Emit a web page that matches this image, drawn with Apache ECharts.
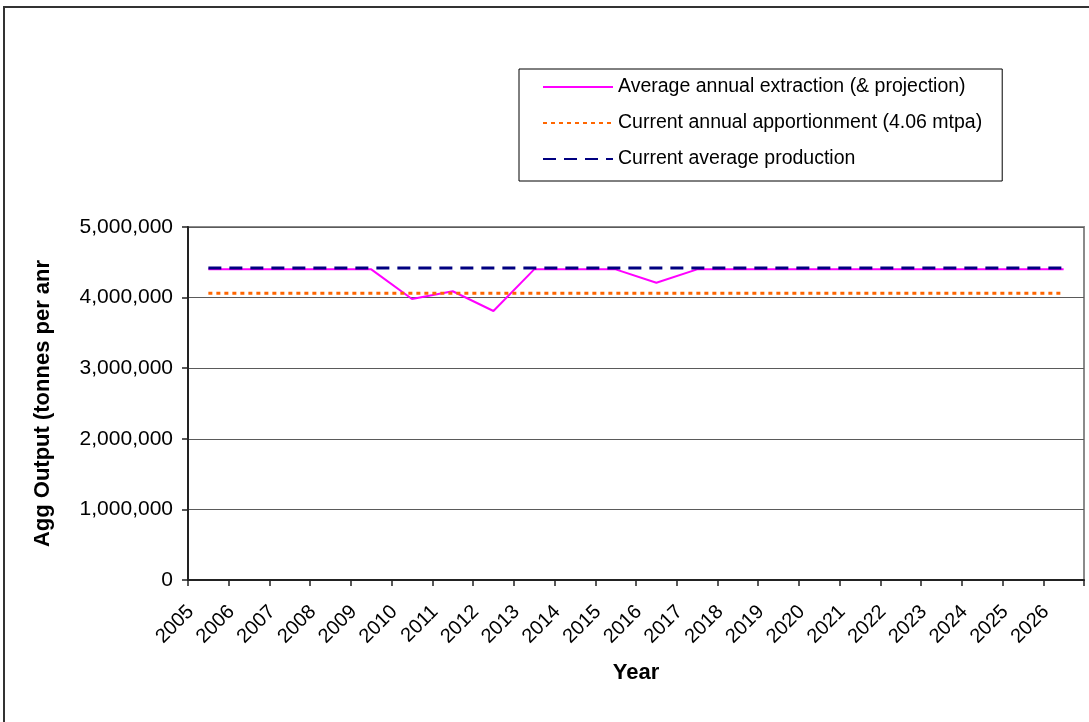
<!DOCTYPE html>
<html>
<head>
<meta charset="utf-8">
<script src="https://cdn.jsdelivr.net/npm/echarts@6/dist/echarts.min.js"></script>
<style>
  html, body { margin: 0; padding: 0; background: #fff; }
  #chart { width: 1089px; height: 722px; }
</style>
</head>
<body>
<div id="chart"></div>
<script>
// Years on the horizontal axis
const years = ['2005','2006','2007','2008','2009','2010','2011','2012','2013','2014','2015',
               '2016','2017','2018','2019','2020','2021','2022','2023','2024','2025','2026'];

// Average annual extraction (& projection), tonnes
const extraction = [4400000, 4400000, 4400000, 4400000, 4400000, 3980000, 4090000, 3810000,
                    4400000, 4400000, 4400000, 4210000, 4400000, 4400000, 4400000, 4400000,
                    4400000, 4400000, 4400000, 4400000, 4400000, 4400000];

// Current annual apportionment (4.06 mtpa)
const apportionmentLevel = 4060000;
// Current average production
const averageLevel = 4420000;

const apportionment = years.map(() => apportionmentLevel);
const averageProduction = years.map(() => averageLevel);

// Value axis settings
const yMin = 0, yMax = 5000000, yStep = 1000000;

const FONT = '"Liberation Sans", Arial, sans-serif';

const chart = echarts.init(document.getElementById('chart'), null, { renderer: 'canvas' });

chart.setOption({
  backgroundColor: '#ffffff',
  animation: false,
  textStyle: { fontFamily: FONT, color: '#000' },
  graphic: [{
    type: 'rect',
    shape: { x: 4, y: 7, width: 1100, height: 730 },
    style: { fill: 'none', stroke: '#333', lineWidth: 2 },
    silent: true, z: -10
  }],
  legend: {
    orient: 'vertical',
    left: 519,
    top: 69,
    padding: [8, 20, 12, 23],
    itemWidth: 70,
    itemHeight: 14,
    itemGap: 16,
    borderColor: '#000',
    borderWidth: 1,
    itemStyle: { opacity: 0 },
    textStyle: { fontFamily: FONT, fontSize: 19.5, color: '#000', lineHeight: 20 },
    data: [
      'Average annual extraction (& projection)',
      'Current annual apportionment (4.06 mtpa)',
      'Current average production'
    ]
  },
  grid: {
    left: 188, right: 5, top: 227, bottom: 142,
    show: true, borderColor: '#8a8a8a', borderWidth: 2, backgroundColor: '#fff'
  },
  xAxis: {
    type: 'category',
    data: years,
    boundaryGap: true,
    name: 'Year',
    nameLocation: 'middle',
    nameGap: 82,
    nameTextStyle: { fontFamily: FONT, fontSize: 22, fontWeight: 'bold', color: '#000' },
    axisLine: { lineStyle: { color: '#222', width: 2 } },
    axisTick: { show: true, interval: 0, length: 6, lineStyle: { color: '#222', width: 1.5 } },
    axisLabel: {
      interval: 0, rotate: 45, margin: 11, padding: [0, 25, 0, 0],
      fontFamily: FONT, fontSize: 20, color: '#000'
    },
    splitLine: { show: false }
  },
  yAxis: {
    type: 'value',
    min: yMin, max: yMax, interval: yStep,
    name: 'Agg Output (tonnes per anr',
    nameLocation: 'middle',
    nameGap: 134,
    nameRotate: 90,
    nameTextStyle: { fontFamily: FONT, fontSize: 22, fontWeight: 'bold', color: '#000' },
    axisLine: { show: true, lineStyle: { color: '#222', width: 2 } },
    axisTick: { show: true, length: 6, inside: false, lineStyle: { color: '#222', width: 1.5 } },
    axisLabel: {
      margin: 15, fontFamily: FONT, fontSize: 21, color: '#000',
      formatter: v => v.toLocaleString('en-US')
    },
    splitLine: { show: true, lineStyle: { color: '#5a5a5a', width: 1 } }
  },
  series: [
    {
      name: 'Average annual extraction (& projection)',
      type: 'line',
      data: extraction,
      symbol: 'none',
      lineStyle: { color: '#ff00ff', width: 2 },
      itemStyle: { color: '#ff00ff' },
      z: 3
    },
    {
      name: 'Current annual apportionment (4.06 mtpa)',
      type: 'line',
      data: apportionment,
      symbol: 'none',
      lineStyle: { color: '#ff6600', width: 3, type: [4, 4] },
      itemStyle: { color: '#ff6600' },
      z: 4
    },
    {
      name: 'Current average production',
      type: 'line',
      data: averageProduction,
      symbol: 'none',
      lineStyle: { color: '#000080', width: 3, type: [13, 8] },
      itemStyle: { color: '#000080' },
      z: 5
    }
  ]
});
</script>
</body>
</html>
